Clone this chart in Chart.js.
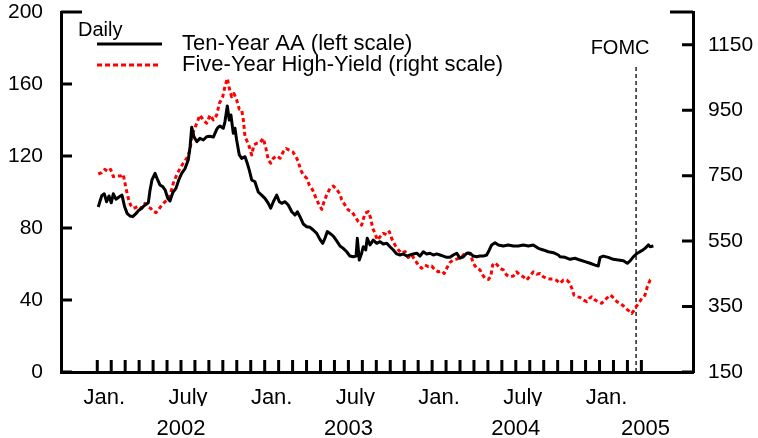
<!DOCTYPE html>
<html>
<head>
<meta charset="utf-8">
<script src="https://cdn.jsdelivr.net/npm/chart.js@4.4.0/dist/chart.umd.min.js"></script>
<style>
  html, body { margin: 0; padding: 0; background: #fff; }
  #chart { display: block; }
</style>
</head>
<body>
<canvas id="chart" width="758" height="438"></canvas>
<script>
// x values are months since Jan. 1, 2002
const aaMonth = [
  0.07,0.32,0.50,0.67,0.84,1.00,1.15,1.34,1.58,1.77,
  1.96,2.15,2.34,2.54,2.75,2.94,3.18,3.42,3.66,3.78,
  3.92,4.14,4.33,4.49,4.69,4.87,5.05,5.21,5.41,5.64,
  5.84,6.05,6.29,6.52,6.65,6.77,6.93,7.13,7.36,7.60,
  7.84,8.08,8.32,8.56,8.67,8.80,9.03,9.15,9.32,9.46,
  9.58,9.75,9.87,9.99,10.18,10.35,10.59,10.75,10.90,11.07,
  11.30,11.54,11.78,12.02,12.26,12.43,12.62,12.86,13.05,13.22,
  13.46,13.69,13.94,14.17,14.34,14.53,14.77,15.01,15.25,15.48,
  15.73,15.96,16.16,16.32,16.49,16.68,16.92,17.16,17.40,17.63,
  17.88,18.11,18.35,18.55,18.64,18.78,18.95,19.07,19.24,19.35,
  19.55,19.78,20.03,20.27,20.50,20.75,20.98,21.22,21.46,21.70,
  21.94,22.18,22.42,22.65,22.90,23.13,23.37,23.61,23.85,24.09,
  24.33,24.57,24.80,25.05,25.28,25.52,25.76,26.00,26.24,26.48,
  26.72,26.95,27.20,27.43,27.67,27.91,28.10,28.27,28.51,28.75,
  29.10,29.46,29.82,30.18,30.54,30.90,31.25,31.61,31.97,32.33,
  32.69,33.05,33.17,33.53,33.89,34.24,34.60,34.96,35.32,35.68,
  35.91,36.04,36.27,36.63,36.99,37.35,37.71,37.99,38.19,38.42,
  38.71,39.03,39.26,39.51,39.63,39.86
];
const aaValue = [
  91.7,98,99,94.6,97.8,94,99,96,97.4,98.3,
  91.8,88,86.7,86.3,87.8,89.6,91,92.8,94,101,
  106.7,110.4,106.7,103.9,103,101,96.5,95,99.6,102,
  106.7,110.4,113,117.8,125,136,130.7,128,129.8,128.9,
  130.7,131,130.5,134.8,136,136.7,135.4,139,147.8,140,
  142.8,132.6,135.4,128.9,120.6,118.7,119.6,116,112,106.7,
  105.7,100,98.3,96.5,93.7,91,94.6,98.3,94.6,93.7,
  94.6,92.8,89,87.2,89,86.3,82.2,80.7,80.4,78.9,
  77,73.7,71.5,74.3,78,77,75.5,72.8,70,68.7,
  66.8,64.4,64,64.4,74.3,62.2,66,69.6,67.8,74.3,
  70.6,73.3,71.5,72.4,71.1,71.5,69.6,67.8,65.6,65,
  65.6,64.4,65,65.6,66,64.4,66.8,65.6,66,65,
  65.6,65,64.4,63.7,63.7,65,66,63.2,64,66,
  66,64.4,64,64.4,64.4,65,67.8,70.6,71.8,70.6,
  70,70.6,70,70,70.6,70,70.6,68.7,67.8,66.8,
  66.3,65,64,63.7,62.6,63.2,62.2,61.3,60.4,59.4,
  58.9,63.7,64.4,63.7,62.6,62.2,61.8,60.4,61.7,64,
  66,67.4,68.7,70.6,69.6,70
];

const hyMonth = [
  0.07,0.32,0.55,0.79,0.96,1.15,1.39,1.68,1.86,2.06,
  2.22,2.39,2.58,2.77,2.94,3.18,3.42,3.58,3.83,4.01,
  4.21,4.37,4.62,4.85,5.09,5.26,5.45,5.69,5.93,6.16,
  6.41,6.65,6.77,6.93,7.13,7.36,7.60,7.84,8.08,8.32,
  8.56,8.75,8.99,9.15,9.32,9.46,9.63,9.80,9.99,10.18,
  10.35,10.47,10.59,10.75,10.90,11.07,11.23,11.43,11.66,11.90,
  12.09,12.26,12.43,12.62,12.86,13.10,13.33,13.53,13.76,14.01,
  14.24,14.41,14.58,14.77,15.01,15.20,15.44,15.68,15.91,16.09,
  16.25,16.44,16.68,16.92,17.16,17.40,17.52,17.76,17.99,18.24,
  18.48,18.71,18.95,19.19,19.43,19.60,19.74,19.91,20.07,20.27,
  20.50,20.75,20.93,21.10,21.34,21.58,21.82,22.06,22.29,22.54,
  22.77,23.01,23.25,23.49,23.73,23.97,24.21,24.44,24.69,24.87,
  25.05,25.28,25.52,25.76,26.12,26.36,26.59,26.77,26.95,27.20,
  27.43,27.63,27.79,28.03,28.20,28.34,28.51,28.67,28.87,29.10,
  29.35,29.58,29.82,30.06,30.30,30.54,30.78,31.02,31.25,31.50,
  31.74,31.97,32.22,32.45,32.69,32.93,33.17,33.41,33.65,33.84,
  34.01,34.17,34.37,34.60,34.84,35.09,35.27,35.44,35.68,35.91,
  36.16,36.39,36.63,36.80,37.04,37.24,37.47,37.71,37.95,38.19,
  38.31,38.49,38.63,38.80,39.03,39.26,39.43,39.63,39.81
];
const hyValue = [
  755,759,769,762,769,747,749,749,754,711,
  681,660,650,653,657,650,665,655,650,640,
  637,645,660,670,678,696,727,752,772,788,
  803,828,869,889,910,935,920,910,935,920,
  935,971,991,1022,1047,1017,991,1001,981,953,
  951,920,869,854,838,813,844,849,851,864,
  833,798,788,803,810,803,823,833,828,823,
  808,793,767,752,742,721,706,681,660,647,
  670,691,711,718,708,693,676,660,645,640,
  625,609,599,635,640,620,589,574,553,563,
  574,569,579,558,538,523,513,518,500,508,
  492,477,467,477,472,474,462,456,459,451,
  467,485,492,495,502,513,514,508,482,467,
  462,446,436,433,441,477,484,477,467,462,
  446,441,443,456,446,441,431,443,456,449,
  451,441,436,434,434,430,421,431,431,423,
  406,385,380,378,370,365,375,380,370,365,
  360,370,380,385,375,365,360,352,342,334,
  329,339,350,360,375,385,411,431,436
];

const leftTicks = [0, 40, 80, 120, 160, 200];
const rightTicks = [150, 350, 550, 750, 950, 1150];
const rightMax = 1250;

const monthLabelPos = [0.5, 6.5, 12.5, 18.5, 24.5, 30.5, 36.5];
const monthLabels = ['Jan.', 'July', 'Jan.', 'July', 'Jan.', 'July', 'Jan.'];
const yearLabelPos = [6, 18, 30, 39.3];
const yearLabels = ['2002', '2003', '2004', '2005'];

const fomcMonth = 38.62;   // March 22, 2005
const xMin = -2.6, xMax = 42.7;

const FONT = '"Liberation Sans", Arial, sans-serif';

const axisMarks = {
    id: 'axisMarks',
    afterDraw(chart) {
        const { ctx, chartArea: a, scales } = chart;
        ctx.save();
        ctx.strokeStyle = '#000';
        ctx.lineWidth = 3;
        ctx.beginPath();
        leftTicks.forEach(v => {
            const py = scales.y.getPixelForValue(v);
            ctx.moveTo(a.left, py);
            ctx.lineTo(a.left + (v === 200 ? 21 : 11), py);
        });
        rightTicks.concat([rightMax]).forEach(v => {
            const py = scales.y2.getPixelForValue(v);
            ctx.moveTo(a.right, py);
            ctx.lineTo(a.right - (v === rightMax ? 23 : 11), py);
        });
        // monthly ticks, Jan. 2002 through Apr. 2005
        for (let m = 0; m <= 39; m++) {
            const px = scales.x.getPixelForValue(m);
            ctx.moveTo(px, a.bottom);
            ctx.lineTo(px, a.bottom - 12);
        }
        ctx.stroke();

        // legend
        ctx.fillStyle = '#000';
        ctx.textBaseline = 'middle';
        ctx.textAlign = 'left';
        ctx.font = '20px ' + FONT;
        ctx.fillText('Daily', 78, 30);
        ctx.font = '22px ' + FONT;
        ctx.fillText('Ten-Year AA (left scale)', 182, 44);
        ctx.fillText('Five-Year High-Yield (right scale)', 182, 65);
        ctx.beginPath();
        ctx.moveTo(97, 44);
        ctx.lineTo(162, 44);
        ctx.stroke();
        ctx.strokeStyle = '#ff0000';
        ctx.setLineDash([5, 3]);
        ctx.beginPath();
        ctx.moveTo(97, 65);
        ctx.lineTo(158, 65);
        ctx.stroke();
        ctx.setLineDash([]);

        // FOMC label
        ctx.font = '20px ' + FONT;
        ctx.textAlign = 'center';
        ctx.fillText('FOMC', scales.x.getPixelForValue(fomcMonth) - 16, 48);
        ctx.restore();
    }
};

const tickFont = size => ({ family: FONT, size: size });
const noPad = s => { s.paddingTop = 0; s.paddingBottom = 0; };

new Chart(document.getElementById('chart'), {
    type: 'line',
    data: {
        datasets: [
            {
                label: 'Ten-Year AA (left scale)',
                data: aaMonth.map((m, i) => ({ x: m, y: aaValue[i] })),
                borderColor: '#000',
                borderWidth: 3,
                xAxisID: 'x',
                yAxisID: 'y'
            },
            {
                label: 'Five-Year High-Yield (right scale)',
                data: hyMonth.map((m, i) => ({ x: m, y: hyValue[i] })),
                borderColor: '#ff0000',
                borderWidth: 3,
                borderDash: [4, 3],
                xAxisID: 'x',
                yAxisID: 'y2'
            },
            {
                label: 'FOMC',
                data: [{ x: fomcMonth, y: 0 }, { x: fomcMonth, y: 170 }],
                borderColor: '#000',
                borderWidth: 1.3,
                borderDash: [4, 3],
                xAxisID: 'x',
                yAxisID: 'y'
            }
        ]
    },
    options: {
        responsive: false,
        animation: false,
        devicePixelRatio: 1,
        layout: { padding: { top: 12, left: 0, right: 0, bottom: 0 } },
        elements: {
            point: { radius: 0 },
            line: { tension: 0, borderJoinStyle: 'round' }
        },
        plugins: {
            legend: { display: false },
            tooltip: { enabled: false }
        },
        scales: {
            x: {
                type: 'linear',
                position: 'bottom',
                min: xMin,
                max: xMax,
                afterFit: s => { s.height = 34; },
                afterBuildTicks: s => { s.ticks = monthLabelPos.map(v => ({ value: v })); },
                grid: { display: false, drawTicks: false },
                border: { display: true, color: '#000', width: 3 },
                ticks: {
                    autoSkip: false, maxRotation: 0, padding: 13, color: '#000',
                    font: tickFont(22),
                    callback: (v, i) => monthLabels[i]
                }
            },
            xYear: {
                type: 'linear',
                axis: 'x',
                position: 'bottom',
                min: xMin,
                max: xMax,
                afterFit: s => { s.height = 32; },
                afterBuildTicks: s => { s.ticks = yearLabelPos.map(v => ({ value: v })); },
                grid: { display: false, drawTicks: false },
                border: { display: false },
                ticks: {
                    autoSkip: false, maxRotation: 0, padding: 10, color: '#000',
                    font: tickFont(22),
                    callback: (v, i) => yearLabels[i]
                }
            },
            y: {
                type: 'linear',
                position: 'left',
                min: 0,
                max: 200,
                afterFit: s => { s.width = 61; noPad(s); },
                afterBuildTicks: s => { s.ticks = leftTicks.map(v => ({ value: v })); },
                grid: { display: false, drawTicks: false },
                border: { display: true, color: '#000', width: 3 },
                ticks: { padding: 18, color: '#000', font: tickFont(21), callback: v => String(v) }
            },
            y2: {
                type: 'linear',
                position: 'right',
                min: 150,
                max: rightMax,
                afterFit: s => { s.width = 65; noPad(s); },
                afterBuildTicks: s => { s.ticks = rightTicks.map(v => ({ value: v })); },
                grid: { display: false, drawTicks: false },
                border: { display: true, color: '#000', width: 3 },
                ticks: { padding: 15, color: '#000', font: tickFont(21), callback: v => String(v) }
            }
        }
    },
    plugins: [axisMarks]
});
</script>
</body>
</html>
